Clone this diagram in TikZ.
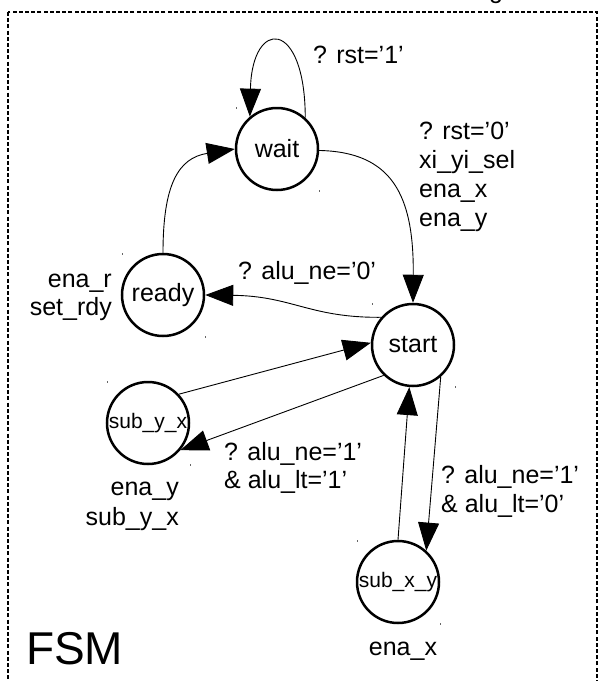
\documentclass[tikz,border=0pt]{standalone}
\usepackage{fontspec}
\setmainfont{Liberation Sans}
\usetikzlibrary{arrows.meta}
\begin{document}
\begin{tikzpicture}[x=1pt,y=-1pt,
  state/.style={circle,draw,line width=2.5pt,minimum size=82pt,inner sep=0pt,
    font=\fontsize{25}{29}\selectfont},
  smallstate/.style={state,font=\fontsize{21}{24}\selectfont},
  lbl/.style={inner sep=0pt,font=\fontsize{25}{29}\selectfont},
  edge/.style={line width=0.9pt,-{Triangle[length=28pt,width=21pt]}},
  cornermark/.style={line width=0.8pt,black!60}
]
\useasboundingbox (0,0) rectangle (600,681);
\clip (0,0) rectangle (600,681);

% clipped title above the frame
\node[lbl,anchor=base west] (title) at (489,-2) {g};

% dashed frame of the FSM block
\draw[line width=2.4pt,dash pattern=on 4pt off 2.2pt] (8,12) rectangle (597,720);
\node[inner sep=0pt,anchor=base west,font=\fontsize{46}{52}\selectfont] (fsm) at (26,664) {FSM};

% states
\node[state] (wait) at (277,149) {wait};
\node[state] (ready) at (163,295) {ready};
\node[state] (start) at (413,345) {start};
\node[smallstate] (syx) at (148,423) {sub\_y\_x};
\node[smallstate] (sxy) at (398,582) {sub\_x\_y};

% small bounding-box corner marks of the states
\foreach \s in {wait,ready,start,syx,sxy}{
  \draw[cornermark] ([shift={(-41,-42)}]\s.center) -- ([shift={(-41,-40)}]\s.center);
  \draw[cornermark] ([shift={(42,41)}]\s.center) -- ([shift={(42,43)}]\s.center);
}

% transitions
\draw[edge] (wait.48) .. controls (305,18) and (252,18) .. (wait.130);
\draw[edge] (ready.90) .. controls (163,185) and (178,158) .. (wait.180);
\draw[edge] (wait.-2) .. controls (392,152) and (414,195) .. (start.90);
\draw[edge] (start.139) .. controls (310,318) and (292,296) .. (ready.0);
\draw[edge] (syx.43) -- (start.177);
\draw[edge] (start.226) -- (syx.320);
\draw[edge] (sxy.90) -- (start.265);
\draw[edge] (start.311) -- (sxy.48);

% transition conditions and actions
\node[lbl,anchor=base west] (c1) at (313,63) {? rst='1'};
\node[lbl,anchor=base west] (c2a) at (419,139) {? rst='0'};
\node[lbl,anchor=base west] (c2b) at (419,168) {xi\_yi\_sel};
\node[lbl,anchor=base west] (c2c) at (419,197) {ena\_x};
\node[lbl,anchor=base west] (c2d) at (419,226) {ena\_y};
\node[lbl,anchor=base west] (c3) at (238,279) {? alu\_ne='0'};
\node[lbl,anchor=base east] (a1) at (112,287) {ena\_r};
\node[lbl,anchor=base east] (a2) at (112,315) {set\_rdy};
\node[lbl,anchor=base west] (c4a) at (224,460) {? alu\_ne='1'};
\node[lbl,anchor=base west] (c4b) at (224,488) {\& alu\_lt='1'};
\node[lbl,anchor=base east] (a3) at (179,495) {ena\_y};
\node[lbl,anchor=base east] (a4) at (179,525) {sub\_y\_x};
\node[lbl,anchor=base west] (c5a) at (441,483) {? alu\_ne='1'};
\node[lbl,anchor=base west] (c5b) at (441,512) {\& alu\_lt='0'};
\node[lbl,anchor=base] (a5) at (403,655) {ena\_x};
\end{tikzpicture}
\end{document}
